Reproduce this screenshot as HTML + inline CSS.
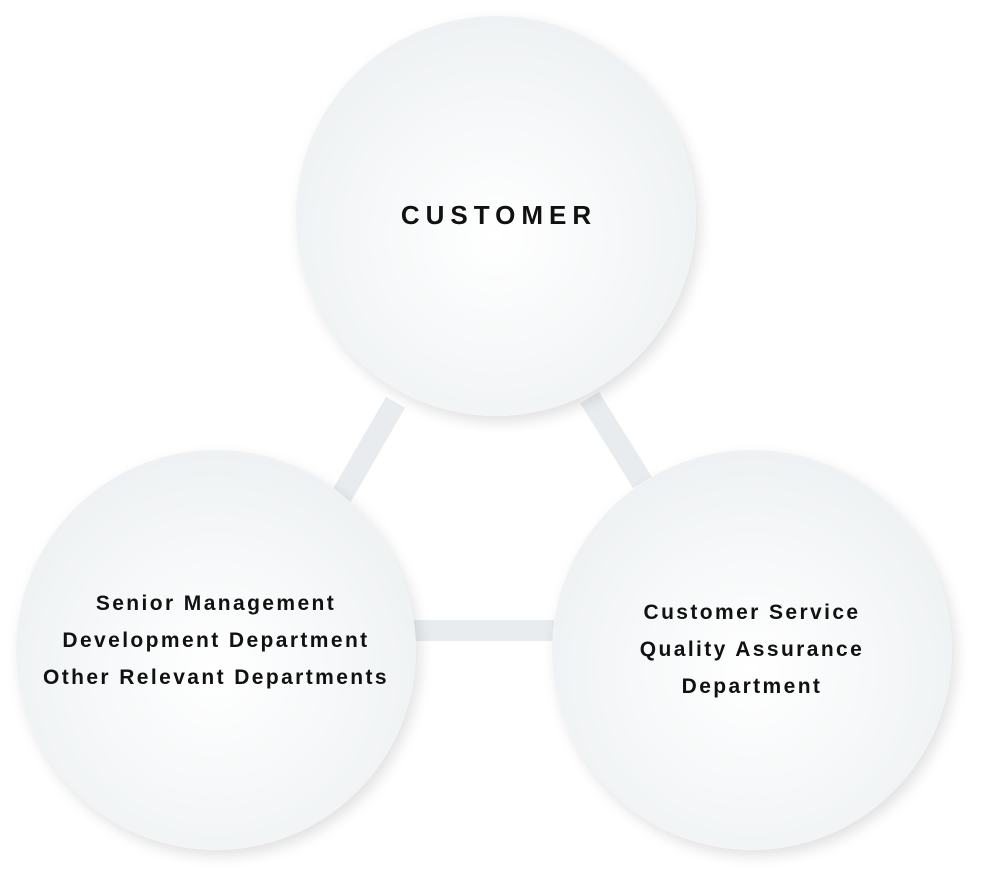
<!DOCTYPE html>
<html><head><meta charset="utf-8"><style>
html,body{margin:0;padding:0;background:#fff;}
body{width:996px;height:894px;position:relative;overflow:hidden;font-family:"Liberation Sans",sans-serif;}
.c{position:absolute;width:400px;height:400px;border-radius:50%;
background:radial-gradient(circle at 50% 55%,#ffffff 0%,#f6f8f9 40%,#e9edef 100%);
box-shadow:4px 6px 14px rgba(0,0,0,0.12);display:flex;align-items:center;justify-content:center;text-align:center;color:#111;}
.t{font-size:21px;font-weight:bold;letter-spacing:2.4px;line-height:37px;white-space:nowrap;}
.bar{position:absolute;background:#e8ecef;}
</style></head><body>
<div class="bar" style="top:395px;width:22px;height:110px;transform:rotate(30deg);left:357px;"></div>
<div class="bar" style="left:605px;top:390px;width:22px;height:100px;transform:rotate(-32deg);"></div>
<div class="bar" style="left:410px;top:620px;width:150px;height:21px;"></div>
<div class="c" style="left:296px;top:16px;"><div style="font-size:26px;font-weight:bold;letter-spacing:6px;margin-top:-2px;margin-left:6px;">CUSTOMER</div></div>
<div class="c" style="left:16px;top:450px;"><div class="t" style="margin-top:-19px;">Senior Management<br>Development Department<br>Other Relevant Departments</div></div>
<div class="c" style="left:552px;top:450px;"><div class="t" style="margin-top:-2px;">Customer Service<br>Quality Assurance<br>Department</div></div>
</body></html>
